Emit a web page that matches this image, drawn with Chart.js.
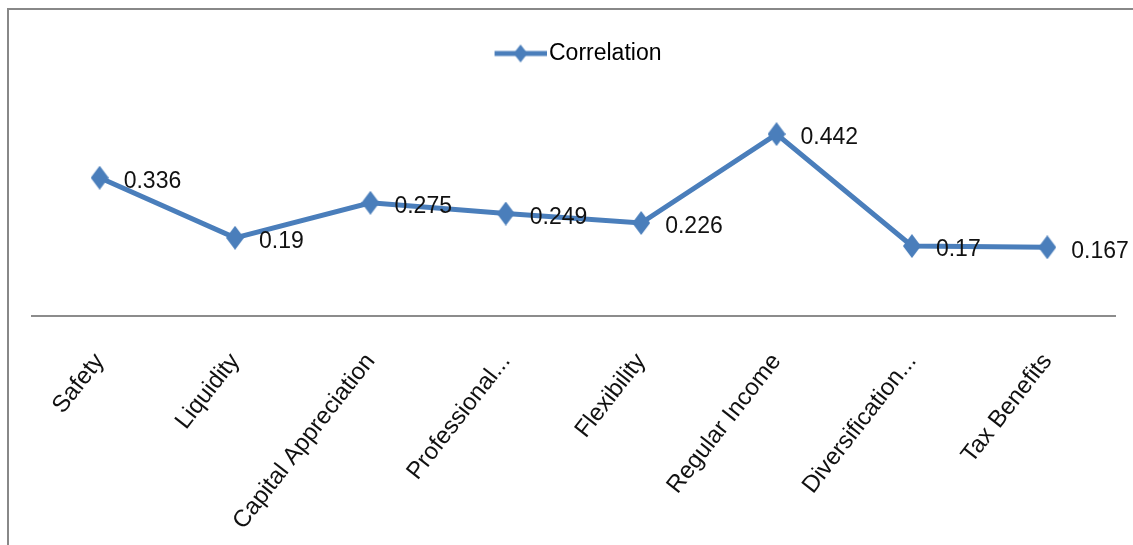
<!DOCTYPE html>
<html lang="en">
<head>
  <meta charset="UTF-8" />
  <title>Correlation</title>
  <script src="https://cdn.jsdelivr.net/npm/chart.js"></script>
  <style>
    html, body { margin: 0; padding: 0; background: #fff; }
    .frame {
      position: absolute; left: 7px; top: 8px; width: 1126px; height: 537px;
      border-top: 2px solid #888; border-left: 2px solid #888; box-sizing: border-box;
    }
    .chart-box { position: absolute; left: 0; top: 0; width: 1133px; height: 545px; }
  </style>
</head>
<body>
  <div class="frame"></div>
  <div class="chart-box"><canvas id="corrChart" width="1133" height="545"></canvas></div>

  <script>
    // data
    const categories = ['Safety', 'Liquidity', 'Capital Appreciation', 'Professional...', 'Flexibility', 'Regular Income', 'Diversification...', 'Tax Benefits'];
    const correlation = [0.336, 0.19, 0.275, 0.249, 0.226, 0.442, 0.17, 0.167];
    const seriesName = 'Correlation';
    const yMin = 0;
    const yMax = 0.5;

    const BLUE = '#4a7ebb';
    const FONT = '"Liberation Sans", Arial, sans-serif';

    // diamond marker (a bit taller than wide, like the original)
    function makeDiamond(w, h) {
      const c = document.createElement('canvas');
      c.width = w; c.height = h;
      const g = c.getContext('2d');
      g.fillStyle = BLUE;
      g.beginPath();
      g.moveTo(w / 2, 0);
      g.lineTo(w, h / 2);
      g.lineTo(w / 2, h);
      g.lineTo(0, h / 2);
      g.closePath();
      g.fill();
      return c;
    }

    // legend symbol: line with a diamond in the middle (left part left blank)
    function makeLegendMark(w, h, lead) {
      const c = document.createElement('canvas');
      c.width = w; c.height = h;
      const g = c.getContext('2d');
      const mid = lead + (w - lead) / 2;
      g.fillStyle = BLUE;
      g.fillRect(lead, h / 2 - 2.5, w - lead, 5);
      g.drawImage(makeDiamond(14, 18), mid - 7, h / 2 - 9);
      return c;
    }

    const pointImg = makeDiamond(18, 24);
    const legendImg = makeLegendMark(70, 20, 18);

    // value labels to the right of each point
    const valueLabels = {
      id: 'valueLabels',
      afterDatasetsDraw(chart) {
        const ctx = chart.ctx;
        const meta = chart.getDatasetMeta(0);
        ctx.save();
        ctx.font = '23px ' + FONT;
        ctx.fillStyle = '#111';
        ctx.textAlign = 'left';
        ctx.textBaseline = 'middle';
        meta.data.forEach((pt, i) => {
          ctx.fillText(String(correlation[i]), pt.x + 24, pt.y + 4);
        });
        ctx.restore();
      }
    };

    const ctx = document.getElementById('corrChart').getContext('2d');
    new Chart(ctx, {
      type: 'line',
      data: {
        labels: categories,
        datasets: [{
          label: seriesName,
          data: correlation,
          borderColor: BLUE,
          backgroundColor: BLUE,
          borderWidth: 5,
          tension: 0,
          pointStyle: pointImg,
          pointRadius: 9,
          pointHoverRadius: 9
        }]
      },
      options: {
        responsive: false,
        animation: false,
        layout: { padding: { left: 32, right: 18, top: 32, bottom: 0 } },
        plugins: {
          tooltip: { enabled: false },
          legend: {
            position: 'top',
            weight: 1000,
            labels: {
              usePointStyle: true,
              pointStyleWidth: 52,
              padding: 10,
              color: '#111',
              font: { family: FONT, size: 23 },
              generateLabels: () => [{
                text: seriesName,
                pointStyle: legendImg,
                fillStyle: BLUE,
                strokeStyle: BLUE,
                lineWidth: 0,
                datasetIndex: 0
              }]
            }
          },
          // empty spacer under the legend
          subtitle: {
            display: true,
            text: ' ',
            weight: 500,
            font: { size: 1 },
            padding: { top: 34, bottom: 0 }
          }
        },
        scales: {
          x: {
            offset: true,
            grid: { display: false },
            border: { display: true, color: '#8c8c8c', width: 2 },
            ticks: {
              autoSkip: false,
              minRotation: 52,
              maxRotation: 52,
              padding: 24,
              color: '#111',
              font: { family: FONT, size: 24 }
            },
            afterFit: (scale) => { scale.height = 229; }
          },
          y: {
            display: false,
            min: yMin,
            max: yMax
          }
        }
      },
      plugins: [valueLabels]
    });
  </script>
</body>
</html>
